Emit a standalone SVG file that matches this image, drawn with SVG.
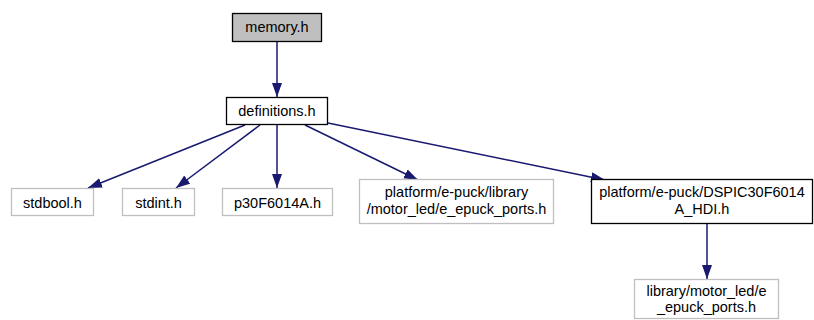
<svg xmlns="http://www.w3.org/2000/svg" width="814" height="320" viewBox="0 0 814 320">
<defs>
<marker id="ah" markerUnits="userSpaceOnUse" markerWidth="15" markerHeight="11" refX="14" refY="5" orient="auto">
<path d="M0,0 L14,5 L0,10 z" fill="#191970"/>
</marker>
<style>
.e{stroke:#191970;stroke-width:1.5;fill:none;marker-end:url(#ah)}
.t{font-family:"Liberation Sans",Arial,sans-serif;font-size:14.5px;text-anchor:middle;fill:#000}
.nb{fill:#fff;stroke:#000;stroke-width:1.3}
.ng{fill:#fff;stroke:#bfbfbf;stroke-width:1.3}
</style>
</defs>
<rect width="814" height="320" fill="#fff"/>
<g id="edges">
<line class="e" x1="277" y1="42" x2="277" y2="97"/>
<line class="e" x1="245" y1="125" x2="88" y2="188"/>
<line class="e" x1="260" y1="125" x2="176" y2="188"/>
<line class="e" x1="277" y1="125" x2="277" y2="188"/>
<line class="e" x1="305" y1="125" x2="418" y2="180"/>
<line class="e" x1="328" y1="123" x2="605" y2="180"/>
<line class="e" x1="707" y1="224" x2="707" y2="279"/>
</g>
<g id="memory">
<rect x="232.5" y="13.5" width="89" height="28" fill="#bfbfbf" stroke="#000" stroke-width="1.3"/>
<text class="t" x="277" y="32">memory.h</text>
</g>
<g id="definitions">
<rect class="nb" x="226.5" y="97.5" width="101" height="27"/>
<text class="t" x="277" y="116">definitions.h</text>
</g>
<g id="stdbool">
<rect class="ng" x="11.5" y="188.5" width="82" height="27"/>
<text class="t" x="52.5" y="207.5">stdbool.h</text>
</g>
<g id="stdint">
<rect class="ng" x="122.5" y="188.5" width="72" height="27"/>
<text class="t" x="158.5" y="207.5">stdint.h</text>
</g>
<g id="p30">
<rect class="ng" x="222.5" y="188.5" width="110" height="27"/>
<text class="t" x="277.5" y="207.5">p30F6014A.h</text>
</g>
<g id="eports">
<rect class="ng" x="359.5" y="179.5" width="194" height="44"/>
<text class="t" x="456.5" y="197">platform/e-puck/library</text>
<text class="t" x="456.5" y="214">/motor_led/e_epuck_ports.h</text>
</g>
<g id="dspic">
<rect class="nb" x="591.5" y="179.5" width="221" height="44"/>
<text class="t" x="702" y="197">platform/e-puck/DSPIC30F6014</text>
<text class="t" x="702" y="214">A_HDI.h</text>
</g>
<g id="libports">
<rect class="ng" x="634.5" y="279.5" width="144" height="39"/>
<text class="t" x="706.5" y="296">library/motor_led/e</text>
<text class="t" x="706.5" y="312">_epuck_ports.h</text>
</g>
</svg>
